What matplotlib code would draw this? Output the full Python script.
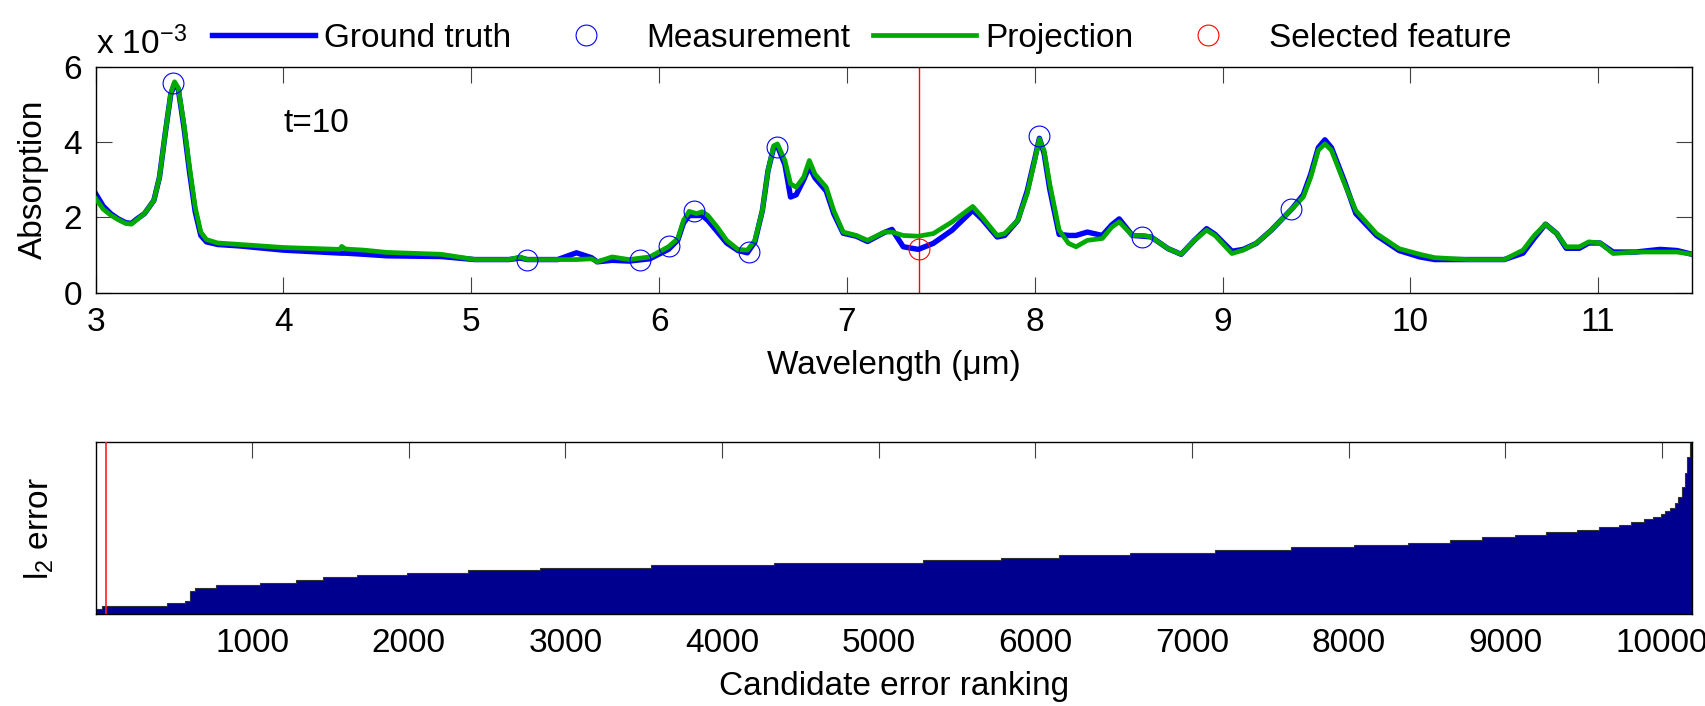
import numpy as np
import matplotlib
matplotlib.use("Agg")
import matplotlib.pyplot as plt
from matplotlib.lines import Line2D

plt.rcParams['font.family'] = ['Liberation Sans', 'DejaVu Sans']
plt.rcParams['mathtext.fontset'] = 'custom'
plt.rcParams['mathtext.rm'] = 'Liberation Sans'
plt.rcParams['mathtext.it'] = 'Liberation Sans'

# ---- spectrum (absorption in units of 1e-3) ----
wavelength = [3.00, 3.04, 3.08, 3.12, 3.16, 3.19, 3.22, 3.26, 3.31, 3.34,
              3.37, 3.40, 3.42, 3.44, 3.47, 3.50, 3.53, 3.56, 3.59, 3.65,
              3.77, 4.00, 4.30, 4.31, 4.33, 4.43, 4.55, 4.84, 5.02, 5.20,
              5.26, 5.30, 5.46, 5.56, 5.64, 5.67, 5.75, 5.84, 5.95, 6.05,
              6.10, 6.13, 6.16, 6.20, 6.23, 6.26, 6.31, 6.36, 6.42, 6.47,
              6.51, 6.55, 6.58, 6.61, 6.63, 6.67, 6.70, 6.73, 6.77, 6.80,
              6.83, 6.89, 6.93, 6.98, 7.05, 7.11, 7.20, 7.24, 7.30, 7.38,
              7.46, 7.56, 7.67, 7.72, 7.80, 7.84, 7.91, 7.96, 8.00, 8.025,
              8.05, 8.08, 8.13, 8.18, 8.22, 8.28, 8.36, 8.41, 8.45, 8.52,
              8.58, 8.62, 8.71, 8.78, 8.85, 8.915, 8.96, 9.05, 9.11, 9.18,
              9.26, 9.37, 9.43, 9.47, 9.51, 9.545, 9.58, 9.65, 9.71, 9.82,
              9.94, 10.05, 10.13, 10.31, 10.50, 10.60, 10.66, 10.72, 10.78, 10.83,
              10.90, 10.95, 11.01, 11.08, 11.20, 11.33, 11.42, 11.50]

ground_truth = [2.63, 2.30, 2.10, 1.96, 1.86, 1.84, 1.96, 2.10, 2.45, 3.07,
                4.21, 5.27, 5.55, 5.40, 4.40, 3.20, 2.15, 1.52, 1.35, 1.28,
                1.24, 1.13, 1.05, 1.05, 1.05, 1.02, 0.98, 0.96, 0.88, 0.88,
                0.92, 0.88, 0.88, 1.06, 0.93, 0.82, 0.86, 0.84, 0.90, 1.15,
                1.40, 1.85, 2.05, 2.05, 2.05, 1.92, 1.62, 1.32, 1.12, 1.06,
                1.35, 2.18, 3.24, 3.85, 3.90, 3.40, 2.54, 2.60, 3.00, 3.35,
                3.05, 2.70, 2.10, 1.58, 1.50, 1.36, 1.60, 1.68, 1.22, 1.15,
                1.31, 1.66, 2.19, 1.95, 1.48, 1.52, 1.92, 2.70, 3.55, 4.10,
                3.70, 2.75, 1.55, 1.52, 1.52, 1.61, 1.52, 1.80, 1.96, 1.52,
                1.50, 1.48, 1.17, 1.02, 1.39, 1.70, 1.55, 1.10, 1.15, 1.31,
                1.66, 2.23, 2.60, 3.15, 3.85, 4.06, 3.85, 2.95, 2.10, 1.52,
                1.12, 0.95, 0.88, 0.88, 0.88, 1.05, 1.45, 1.82, 1.57, 1.18,
                1.18, 1.32, 1.32, 1.08, 1.08, 1.15, 1.12, 1.02]

projection = [2.50, 2.22, 2.06, 1.94, 1.84, 1.82, 1.94, 2.10, 2.45, 3.07,
              4.21, 5.30, 5.60, 5.44, 4.48, 3.33, 2.27, 1.61, 1.41, 1.32,
              1.28, 1.20, 1.15, 1.23, 1.16, 1.13, 1.07, 1.02, 0.88, 0.88,
              0.95, 0.88, 0.88, 0.88, 0.90, 0.82, 0.95, 0.88, 0.95, 1.22,
              1.44, 1.92, 2.16, 2.10, 2.15, 2.05, 1.74, 1.39, 1.15, 1.13,
              1.39, 2.18, 3.24, 3.90, 3.95, 3.51, 2.89, 2.80, 3.07, 3.51,
              3.15, 2.80, 2.18, 1.61, 1.52, 1.39, 1.61, 1.61, 1.52, 1.50,
              1.57, 1.88, 2.29, 2.01, 1.52, 1.57, 1.92, 2.63, 3.51, 4.08,
              3.77, 2.89, 1.66, 1.31, 1.22, 1.39, 1.44, 1.74, 1.88, 1.52,
              1.52, 1.48, 1.17, 1.02, 1.39, 1.66, 1.52, 1.04, 1.13, 1.31,
              1.66, 2.23, 2.54, 3.07, 3.78, 3.95, 3.78, 2.89, 2.18, 1.57,
              1.17, 1.02, 0.93, 0.88, 0.88, 1.13, 1.52, 1.82, 1.57, 1.22,
              1.22, 1.35, 1.32, 1.04, 1.08, 1.08, 1.08, 1.02]

# measured wavelengths (t = 10) and the newly selected feature
meas_wavelength = [3.413, 5.297, 5.898, 6.055, 6.187, 6.477, 6.627, 8.024, 8.570, 9.367]
meas_value = [5.56, 0.86, 0.86, 1.23, 2.17, 1.08, 3.86, 4.15, 1.48, 2.23]
selected_wavelength = 7.383
selected_value = 1.15

# ---- sorted candidate errors (step levels over rank intervals) ----
rank_edges = [0.5, 43, 457, 571, 600, 634, 766, 1049, 1277, 1449,
              1671, 1986, 2380, 2840, 3549, 4330, 5280, 5779, 6152, 6605,
              7145, 7630, 8032, 8376, 8648, 8849, 9064, 9257, 9458, 9601,
              9725, 9802, 9888, 9940, 9991, 10019, 10054, 10083, 10103, 10126,
              10146, 10163, 10178, 10192]
error_levels = [0.033, 0.048, 0.064, 0.077, 0.137, 0.153, 0.168, 0.183, 0.199, 0.214,
                0.228, 0.241, 0.257, 0.272, 0.288, 0.300, 0.314, 0.328, 0.343, 0.359,
                0.374, 0.390, 0.403, 0.417, 0.432, 0.448, 0.461, 0.477, 0.492, 0.508,
                0.521, 0.535, 0.552, 0.568, 0.581, 0.601, 0.616, 0.645, 0.684, 0.742,
                0.820, 0.917, 1.0]
selected_rank = 65
rank_ticks = [1000, 2000, 3000, 4000, 5000, 6000, 7000, 8000, 9000, 10000]

FS = 24
BLUE = '#0000ff'
GREEN = '#00aa00'
NAVY = '#00008f'

fig = plt.figure(figsize=(17.05, 7.06), dpi=100)
ax1 = fig.add_axes([0.0561, 0.5854, 0.9363, 0.3201])
ax2 = fig.add_axes([0.0561, 0.1299, 0.9363, 0.2436])

# top panel: spectrum
ax1.plot(wavelength, ground_truth, color=BLUE, lw=3.9, solid_joinstyle='round', zorder=2)
ax1.plot(wavelength, projection, color=GREEN, lw=3.4, solid_joinstyle='round', zorder=3)
ax1.plot(meas_wavelength, meas_value, ls='none', marker='o', ms=15, mfc='none',
         mec=BLUE, mew=0.8, zorder=4)
ax1.axvline(selected_wavelength, color='red', lw=1.0, zorder=1)
ax1.plot([selected_wavelength], [selected_value], ls='none', marker='o', ms=15,
         mfc='none', mec='red', mew=0.8, zorder=4)
ax1.set_xlim(3, 11.5)
ax1.set_ylim(0, 6)
ax1.set_xticks(range(3, 12))
ax1.set_yticks([0, 2, 4, 6])
ax1.text(4.0, 4.5, 't=10', fontsize=FS, va='center', ha='left')
ax1.text(0.0, 1.025, r'x 10$^{\mathregular{-3}}$', transform=ax1.transAxes,
         fontsize=FS, ha='left', va='bottom')
ax1.set_xlabel('Wavelength (\u03bcm)', fontsize=FS)
ax1.set_ylabel('Absorption', fontsize=FS)
ax1.xaxis.set_label_coords(0.5, -0.255)
ax1.yaxis.set_label_coords(-0.0295, 0.5)

# bottom panel: ranked errors
ax2.stairs(error_levels, rank_edges, fill=True, facecolor=NAVY,
           edgecolor='#303030', linewidth=0.8, baseline=0, zorder=2)
ax2.axvline(selected_rank, color='#ff2020', lw=1.2, zorder=3)
ax2.set_xlim(rank_edges[0], rank_edges[-1])
ax2.set_ylim(0, max(error_levels))
ax2.set_xticks(rank_ticks)
ax2.set_yticks([])
ax2.set_xlabel('Candidate error ranking', fontsize=FS)
ax2.set_ylabel(r'l$_{\mathregular{2}}$ error', fontsize=FS)
ax2.xaxis.set_label_coords(0.5, -0.33)
ax2.yaxis.set_label_coords(-0.025, 0.5)

for ax in (ax1, ax2):
    ax.tick_params(direction='in', length=11.5, width=0.8, color='#404040',
                   labelsize=FS, top=True, right=True, pad=10)
    for s in ax.spines.values():
        s.set_linewidth(1.0)
        s.set_color('black')
ax2.tick_params(bottom=False, left=False, right=False)

handles = [
    Line2D([], [], color=BLUE, lw=3.9),
    Line2D([], [], ls='none', marker='o', ms=15, mfc='none', mec=BLUE, mew=0.8),
    Line2D([], [], color=GREEN, lw=3.4),
    Line2D([], [], ls='none', marker='o', ms=15, mfc='none', mec='red', mew=0.8),
]
labels = ['Ground truth', 'Measurement', 'Projection', 'Selected feature']
fig.legend(handles, labels, loc='center left', bbox_to_anchor=(0.1243, 0.946),
           ncol=4, frameon=False, fontsize=FS, handlelength=3.1,
           handletextpad=0.27, columnspacing=0.68, borderpad=0, borderaxespad=0,
           numpoints=1)

fig.savefig('out.png', dpi=100)
